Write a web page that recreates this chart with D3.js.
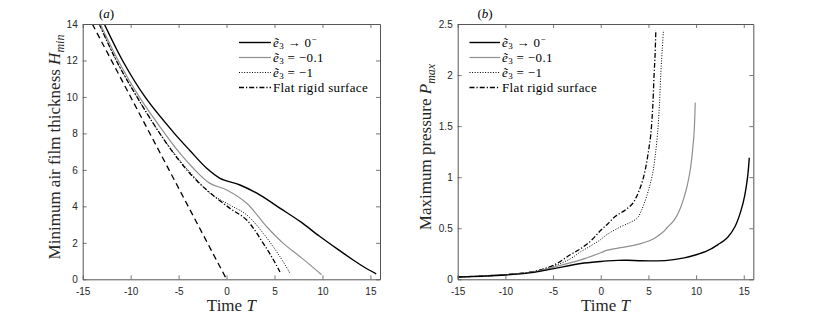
<!DOCTYPE html>
<html>
<head>
<meta charset="utf-8">
<script src="https://cdn.jsdelivr.net/npm/d3@7"></script>
<style>
  html, body { margin: 0; padding: 0; background: #fff; }
  svg { display: block; }
</style>
</head>
<body>
<svg id="chart" width="817" height="319"></svg>
<script>
// ---------- Data ----------
const xTicks = [-15, -10, -5, 0, 5, 10, 15];
const yTicksA = [0, 2, 4, 6, 8, 10, 12, 14];
const yTicksB = [0, 0.5, 1, 1.5, 2, 2.5];

// Panel (a): minimum air film thickness
const aBlackX = [-12.75, -10.85, -8.5, -5.6, -3.8, -2.07, -0.68, 1.4, 3.5, 5.6, 7.7, 9.7, 11.5, 13.2, 14.5, 15.6];
const aBlackY = [14, 12, 10, 8.1, 7.05, 6.09, 5.54, 5.17, 4.62, 3.89, 3.16, 2.36, 1.68, 1.06, 0.62, 0.3];
const aGrayX = [-13.16, -11.3, -9.1, -6.45, -4.85, -3.47, -1.73, 0.02, 2.1, 4.19, 5.92, 7.66, 8.8, 9.9];
const aGrayY = [14, 12, 10, 8.0, 6.9, 6.09, 5.26, 4.9, 4.17, 2.88, 1.97, 1.24, 0.75, 0.25];
const aDotX = [-13.27, -11.5, -9.34, -6.9, -4.85, -3.0, -1.73, 0.36, 2.1, 3.83, 5.57, 6.62];
const aDotY = [14, 12, 10, 7.95, 6.5, 5.4, 4.71, 4.07, 3.53, 2.52, 1.24, 0.33];
const aFlatX = [-13.27, -11.5, -9.34, -6.9, -4.85, -3.0, -1.38, 0.36, 2.1, 3.83, 4.8, 5.57];
const aFlatY = [14, 12, 10, 7.95, 6.45, 5.35, 4.6, 3.89, 3.25, 1.97, 1.15, 0.4];
const aDashX = [-14, 0];
const aDashY = [14, 0];

// Panel (b): maximum pressure
const bBlackX = [-15, -12.5, -10, -7, -4.9, -2.1, 0, 0.7, 1.8, 2.8, 4, 5.25, 7, 8.75, 10, 11.2, 12.3, 13.3, 14.1, 14.7, 15.1, 15.4, 15.58];
const bBlackY = [0.022, 0.03, 0.042, 0.068, 0.105, 0.155, 0.175, 0.18, 0.185, 0.186, 0.182, 0.18, 0.185, 0.21, 0.24, 0.28, 0.34, 0.41, 0.52, 0.67, 0.82, 1.0, 1.19];
const bGrayX = [-15, -12.5, -10, -7, -4.9, -2.1, 0, 0.7, 2.1, 3.3, 4.2, 5.6, 6.5, 7.0, 7.7, 8.23, 8.7, 9.1, 9.4, 9.63, 9.8, 9.91];
const bGrayY = [0.022, 0.032, 0.045, 0.072, 0.12, 0.19, 0.26, 0.285, 0.31, 0.33, 0.35, 0.40, 0.46, 0.51, 0.58, 0.67, 0.79, 0.93, 1.08, 1.26, 1.45, 1.73];
const bDotX = [-15, -12.5, -10, -7, -4.9, -3.2, -2.1, -1, 0, 0.68, 2, 3.15, 3.85, 4.2, 4.55, 5.0, 5.43, 5.7, 5.95, 6.15, 6.3, 6.45, 6.58];
const bDotY = [0.022, 0.032, 0.045, 0.075, 0.13, 0.2, 0.27, 0.33, 0.39, 0.44, 0.51, 0.56, 0.6, 0.66, 0.74, 0.87, 1.03, 1.2, 1.42, 1.7, 2.01, 2.25, 2.44];
const bFlatX = [-15, -12.5, -10, -7, -4.9, -3.2, -2.1, -1, 0, 0.7, 1.58, 2.45, 3.33, 3.7, 4.03, 4.4, 4.73, 5.0, 5.25, 5.45, 5.6, 5.7, 5.78];
const bFlatY = [0.022, 0.032, 0.045, 0.078, 0.14, 0.24, 0.30, 0.38, 0.48, 0.54, 0.62, 0.67, 0.74, 0.8, 0.87, 0.97, 1.10, 1.25, 1.42, 1.68, 2.01, 2.2, 2.44];

// ---------- Styles ----------
const styles = {
  e0:   { stroke: "#000", width: 1.4, dash: null },
  e01:  { stroke: "#8f8f8f", width: 1.2, dash: null },
  e1:   { stroke: "#000", width: 1.0, dash: "1,1.6" },
  flat: { stroke: "#000", width: 1.3, dash: "5,2,1.2,2" },
  dash: { stroke: "#000", width: 1.3, dash: "6,4" }
};
const axisColor = "#555";
const sansFont = "'Liberation Sans', Arial, sans-serif";
const serifFont = "'Liberation Serif', 'Times New Roman', serif";

const svg = d3.select("#chart");
const zip = (xs, ys) => xs.map((x, i) => [x, ys[i]]);

function drawPanel(opt) {
  const { x0, x1, y0, y1, yDomain, yTicks } = opt;
  const x = d3.scaleLinear().domain([-15, 16]).range([x0, x1]);
  const y = d3.scaleLinear().domain(yDomain).range([y1, y0]);
  const g = svg.append("g");

  const clipId = "clip" + opt.id;
  svg.append("clipPath").attr("id", clipId)
    .append("rect").attr("x", x0).attr("y", y0).attr("width", x1 - x0).attr("height", y1 - y0);

  // lines
  const line = d3.line().x(d => x(d[0])).y(d => y(d[1])).curve(d3.curveCatmullRom.alpha(0.5));
  const lg = g.append("g").attr("clip-path", `url(#${clipId})`);
  opt.series.forEach(s => {
    const st = styles[s.key];
    lg.append("path")
      .attr("d", line(zip(s.xs, s.ys)))
      .attr("fill", "none")
      .attr("stroke", st.stroke)
      .attr("stroke-width", st.width)
      .attr("stroke-dasharray", st.dash)
      .attr("stroke-linejoin", "round");
  });

  const fmt = d => String(d);
  // axes
  const bottom = g.append("g").attr("transform", `translate(0,${y1})`)
    .call(d3.axisBottom(x).tickValues(xTicks).tickFormat(fmt).tickSizeInner(-4).tickSizeOuter(0).tickPadding(9));
  const left = g.append("g").attr("transform", `translate(${x0},0)`)
    .call(d3.axisLeft(y).tickValues(yTicks).tickFormat(fmt).tickSizeInner(-4).tickSizeOuter(0).tickPadding(5));
  const top = g.append("g").attr("transform", `translate(0,${y0})`)
    .call(d3.axisTop(x).tickValues(xTicks).tickFormat("").tickSizeInner(-4).tickSizeOuter(0));
  const right = g.append("g").attr("transform", `translate(${x1},0)`)
    .call(d3.axisRight(y).tickValues(yTicks).tickFormat("").tickSizeInner(-4).tickSizeOuter(0));
  [bottom, left, top, right].forEach(a => {
    a.selectAll("path.domain").attr("stroke", axisColor).attr("stroke-width", 1);
    a.selectAll(".tick line").attr("stroke", axisColor).attr("stroke-width", 0.8);
    a.selectAll(".tick text").attr("fill", "#262626").style("font-family", sansFont).style("font-size", "10px");
  });

  // panel label
  const pl = svg.append("text").attr("x", opt.tagX).attr("y", 17.5)
    .attr("text-anchor", "middle").style("font-family", serifFont).style("font-size", "13px").attr("fill", "#000");
  pl.append("tspan").text("(");
  pl.append("tspan").attr("font-style", "italic").text(opt.tag);
  pl.append("tspan").text(")");

  // x label
  const xl = svg.append("text").attr("x", (x0 + x1) / 2).attr("y", 311)
    .attr("text-anchor", "middle").style("font-family", serifFont).style("font-size", "17px").attr("fill", "#262626");
  xl.append("tspan").text("Time ");
  xl.append("tspan").attr("font-style", "italic").text("T");

  // y label
  const yl = svg.append("text")
    .attr("transform", `translate(${opt.yLabelX},147) rotate(-90)`)
    .attr("text-anchor", "middle").style("font-family", serifFont).style("font-size", "17px").attr("fill", "#262626");
  yl.append("tspan").text(opt.yLabelText);
  yl.append("tspan").attr("font-style", "italic").text(opt.yLabelVar);
  yl.append("tspan").attr("font-style", "italic").attr("font-size", "12px").attr("dy", 4).text(opt.yLabelSub);

  // legend
  const legendItems = [
    { key: "e0", parts: [["ẽ", "i"], ["3", "sub"], [" → 0", "n"], ["−", "sup"]] },
    { key: "e01", parts: [["ẽ", "i"], ["3", "sub"], [" = −0.1", "n"]] },
    { key: "e1", parts: [["ẽ", "i"], ["3", "sub"], [" = −1", "n"]] },
    { key: "flat", parts: [["Flat rigid surface", "n"]] }
  ];
  const rowYs = [42.5, 57.5, 72.5, 87.5];
  legendItems.forEach((it, i) => {
    const st = styles[it.key];
    const ry = rowYs[i];
    svg.append("line")
      .attr("x1", opt.legX0).attr("x2", opt.legX1).attr("y1", ry).attr("y2", ry)
      .attr("stroke", st.stroke).attr("stroke-width", st.width).attr("stroke-dasharray", st.dash);
    const t = svg.append("text").attr("x", opt.legX1 + 2).attr("y", ry + 4)
      .style("font-family", serifFont).style("font-size", "13px")
      .style("letter-spacing", "0.35px").attr("fill", "#000")
      .attr("xml:space", "preserve");
    let shift = 0;
    it.parts.forEach(([txt, kind]) => {
      const sp = t.append("tspan").text(txt);
      let target = 0;
      if (kind === "i") sp.attr("font-style", "italic");
      if (kind === "sub") { sp.attr("font-size", "9px"); target = 2.5; }
      if (kind === "sup") { sp.attr("font-size", "9px"); target = -5; }
      sp.attr("dy", target - shift);
      shift = target;
    });
  });
}

drawPanel({
  id: "a", x0: 82.7, x1: 380, y0: 24, y1: 279.3, yDomain: [0, 14], yTicks: yTicksA,
  tag: "a", tagX: 106.5, yLabelX: 59.5,
  yLabelText: "Minimum air film thickness ", yLabelVar: "H", yLabelSub: "min",
  legX0: 239, legX1: 271,
  series: [
    { key: "dash", xs: aDashX, ys: aDashY },
    { key: "flat", xs: aFlatX, ys: aFlatY },
    { key: "e1", xs: aDotX, ys: aDotY },
    { key: "e01", xs: aGrayX, ys: aGrayY },
    { key: "e0", xs: aBlackX, ys: aBlackY }
  ]
});

drawPanel({
  id: "b", x0: 457.7, x1: 753.3, y0: 24, y1: 279.3, yDomain: [0, 2.5], yTicks: yTicksB,
  tag: "b", tagX: 485, yLabelX: 431,
  yLabelText: "Maximum pressure ", yLabelVar: "P", yLabelSub: "max",
  legX0: 469.5, legX1: 500,
  series: [
    { key: "flat", xs: bFlatX, ys: bFlatY },
    { key: "e1", xs: bDotX, ys: bDotY },
    { key: "e01", xs: bGrayX, ys: bGrayY },
    { key: "e0", xs: bBlackX, ys: bBlackY }
  ]
});
</script>
</body>
</html>
